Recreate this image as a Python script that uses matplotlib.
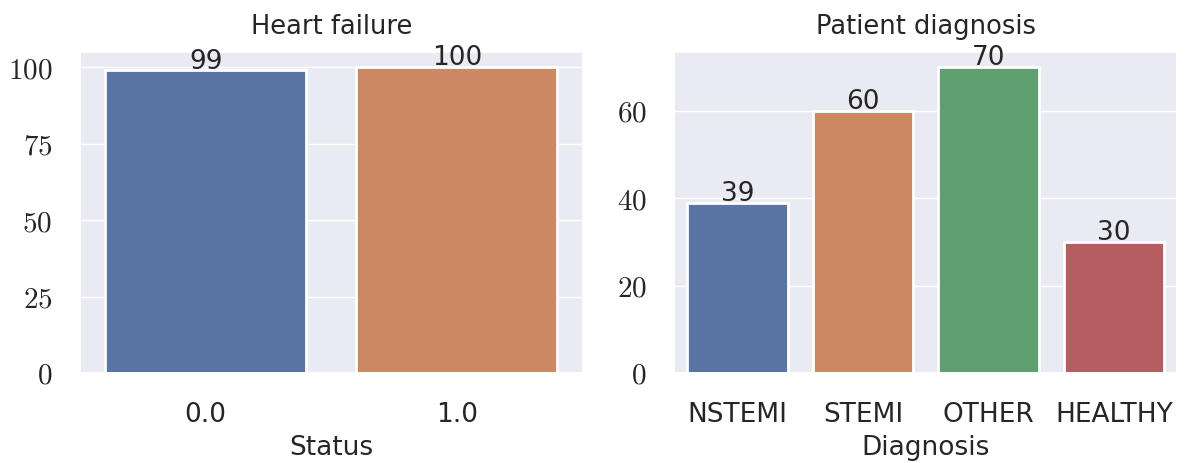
import matplotlib
matplotlib.use("Agg")
import matplotlib.pyplot as plt
import seaborn as sns
from matplotlib.ticker import FuncFormatter

# data
status_labels = ["0.0", "1.0"]
status_counts = [99, 100]
diag_labels = ["NSTEMI", "STEMI", "OTHER", "HEALTHY"]
diag_counts = [39, 60, 70, 30]

sns.set_theme(style="darkgrid")
plt.rcParams["font.family"] = ["DejaVu Sans"]
plt.rcParams["mathtext.fontset"] = "cm"

palette = [sns.desaturate(c, 0.75) for c in sns.color_palette("deep", 4)]
fs = 19

fig, (ax1, ax2) = plt.subplots(1, 2, figsize=(11.89, 4.63), dpi=100)
fig.subplots_adjust(left=0.0673, right=0.9899, bottom=0.1944, top=0.8877, wspace=0.183)

int_fmt = FuncFormatter(lambda v, p: r"$%d$" % v)


def draw(ax, labels, counts, title, xlabel, yticks):
    x = range(len(labels))
    bars = ax.bar(x, counts, width=0.8, color=palette[:len(labels)],
                  edgecolor="white", linewidth=2)
    ax.bar_label(bars, labels=[str(c) for c in counts], fontsize=fs,
                 padding=-3, color="#262626")
    ax.set_xticks(list(x))
    ax.set_xticklabels(labels, fontsize=fs)
    ax.set_xlim(-0.5, len(labels) - 0.5)
    ax.set_yticks(yticks)
    ax.yaxis.set_major_formatter(int_fmt)
    ax.tick_params(axis="y", labelsize=21, pad=14)
    ax.tick_params(axis="x", pad=15)
    ax.grid(axis="x", visible=False)
    ax.set_title(title, fontsize=18.5, pad=13)
    ax.set_xlabel(xlabel, fontsize=fs, labelpad=5)
    ax.set_ylabel("")
    ax.margins(y=0.05)


draw(ax1, status_labels, status_counts, "Heart failure", "Status", [0, 25, 50, 75, 100])
draw(ax2, diag_labels, diag_counts, "Patient diagnosis", "Diagnosis", [0, 20, 40, 60])

fig.savefig("out.png", dpi=100)
